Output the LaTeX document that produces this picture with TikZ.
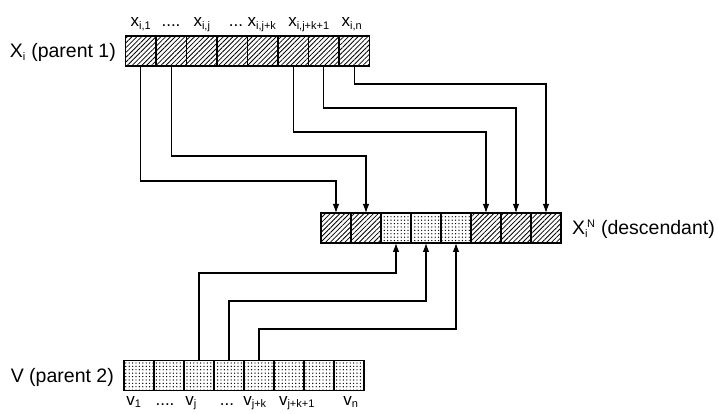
\documentclass[tikz,border=0pt]{standalone}
\usepackage{fontspec}
\setmainfont{Liberation Sans}
\usetikzlibrary{arrows.meta,patterns.meta}
\tikzset{
  cellbase/.style={draw, line width=1.1pt, minimum width=30pt, minimum height=30pt, inner sep=0pt, outer sep=0pt},
  hcell/.style={cellbase, pattern={Lines[angle=45,distance=3.4pt,line width=0.8pt]}},
  dcell/.style={cellbase, pattern={Dots[distance=3.4pt,radius=0.7pt]}},
  conn/.style={line width=1.1pt, -{Latex[length=9pt,width=6.5pt]}},
  biglab/.style={font=\fontsize{19.5}{22}\selectfont, inner sep=0pt},
  idx/.style={font=\fontsize{17}{19}\selectfont, inner sep=0pt, anchor=base},
}
\newcommand{\sbs}[1]{\textsubscript{\fontsize{11}{12}\selectfont #1}}
\newcommand{\sps}[1]{\textsuperscript{\fontsize{11}{12}\selectfont #1}}
\begin{document}
\begin{tikzpicture}[x=1pt,y=-1pt]
\useasboundingbox (0,0) rectangle (718,414);
% top array (parent 1)
\foreach \i in {1,...,8} {
  \node[hcell, minimum width=30.5pt] (t\i) at ({125.5+30.5*(\i-0.5)},51) {};
}
% middle array (descendant)
\foreach \i in {1,2,6,7,8} {
  \node[hcell] (m\i) at ({321+30*(\i-0.5)},228) {};
}
\foreach \i in {3,4,5} {
  \node[dcell] (m\i) at ({321+30*(\i-0.5)},228) {};
}
% bottom array (parent 2)
\foreach \i in {1,...,8} {
  \node[dcell] (b\i) at ({124+30*(\i-0.5)},375.5) {};
}
% labels
\node[biglab, anchor=east] (lp1) at (116,52) {X\sbs{i} (parent 1)};
\node[biglab, anchor=west] (ld) at (572,229) {X\sbs{i}\kern-1pt\sps{N} (descendant)};
\node[biglab, anchor=east] (lp2) at (114,377) {V (parent 2)};
% top index labels
\node[idx] (x1) at (141,27) {x\sbs{i,1}};
\node[idx] (xd1) at (171,27) {....};
\node[idx] (xj) at (202,27) {x\sbs{i,j}};
\node[idx] (xd2) at (236,27) {...};
\node[idx] (xjk) at (262,27) {x\sbs{i,j+k}};
\node[idx] (xjk1) at (309,27) {x\sbs{i,j+k+1}};
\node[idx] (xn) at (352,27) {x\sbs{i,n}};
% bottom index labels
\node[idx] (v1) at (134,405) {v\sbs{1}};
\node[idx] (vd1) at (165,405) {....};
\node[idx] (vj) at (191,405) {v\sbs{j}};
\node[idx] (vd2) at (227,405) {...};
\node[idx] (vjk) at (255,405) {v\sbs{j+k}};
\node[idx] (vjk1) at (297,405) {v\sbs{j+k+1}};
\node[idx] (vn) at (351,405) {v\sbs{n}};
% connectors parent 1 -> descendant
\draw[conn] (t1.south) -- (t1.south |- 0,181) -| (m1.north);
\draw[conn] (t2.south) -- (t2.south |- 0,156) -| (m2.north);
\draw[conn] (t6.south) -- (t6.south |- 0,132) -| (m6.north);
\draw[conn] (t7.south) -- (t7.south |- 0,108) -| (m7.north);
\draw[conn] (t8.south) -- (t8.south |- 0,84) -| (m8.north);
% connectors parent 2 -> descendant
\draw[conn] (b3.north) -- (b3.north |- 0,273) -| (m3.south);
\draw[conn] (b4.north) -- (b4.north |- 0,301) -| (m4.south);
\draw[conn] (b5.north) -- (b5.north |- 0,329) -| (m5.south);
\end{tikzpicture}
\end{document}
